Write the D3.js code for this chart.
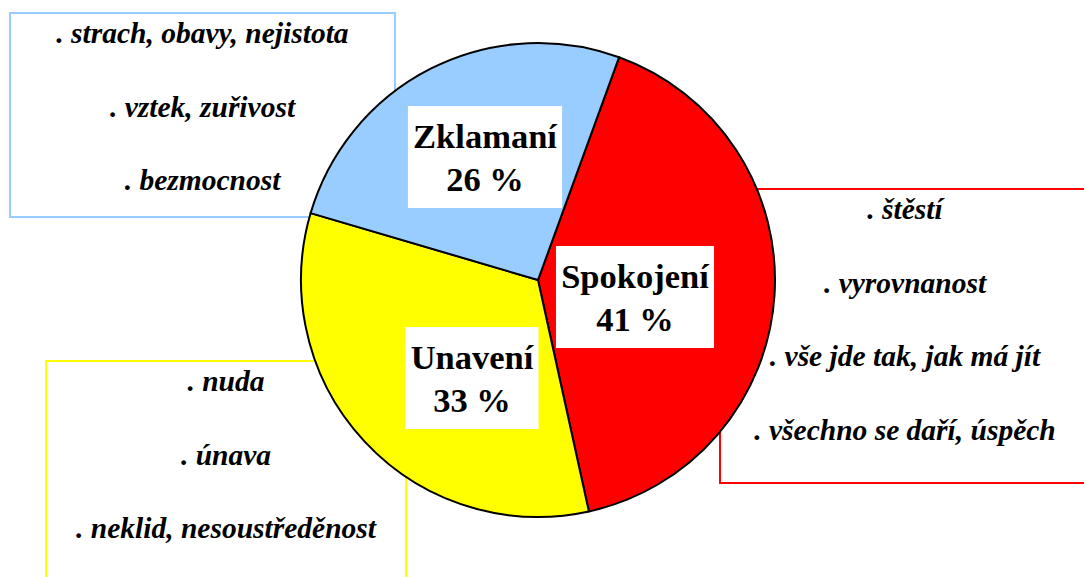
<!DOCTYPE html>
<html>
<head>
<meta charset="utf-8">
<script src="https://cdn.jsdelivr.net/npm/d3@7"></script>
<style>
  body { margin: 0; background: #fff; }
  svg { display: block; }
</style>
</head>
<body>
<script>
// data
const categories = ['Spokojení', 'Unavení', 'Zklamaní'];
const percents = [41, 33, 26];
const colors = ['#ff0000', '#ffff00', '#99ccff'];
const notesSpokojeni = ['. štěstí', '. vyrovnanost', '. vše jde tak, jak má jít', '. všechno se daří, úspěch'];
const notesUnaveni = ['. nuda', '. únava', '. neklid, nesoustředěnost'];
const notesZklamani = ['. strach, obavy, nejistota', '. vztek, zuřivost', '. bezmocnost'];
const notes = [notesSpokojeni, notesUnaveni, notesZklamani];

const width = 1084;
const height = 577;
const cx = 538, cy = 280, radius = 237;
const serif = '"Liberation Serif", "Times New Roman", serif';

// layout of the side boxes (behind the pie) and the label boxes
const noteBoxes = [
  { x: 720, y: 189, w: 370, h: 294 },
  { x: 46, y: 361, w: 360, h: 260 },
  { x: 10, y: 13, w: 385, h: 204 }
];
const labelOffsets = [[97, 8], [-66, 89], [-53, -132]];

const svg = d3.select('body').append('svg')
  .attr('width', width)
  .attr('height', height);

// note boxes
const notesG = svg.append('g');
noteBoxes.forEach((b, i) => {
  notesG.append('rect')
    .attr('x', b.x)
    .attr('y', b.y)
    .attr('width', b.w)
    .attr('height', b.h)
    .attr('fill', 'none')
    .attr('stroke', colors[i])
    .attr('stroke-width', 2);

  notesG.selectAll(null)
    .data(notes[i])
    .enter()
    .append('text')
    .attr('x', b.x + b.w / 2)
    .attr('y', (d, j) => b.y + 30 + j * 73.5)
    .attr('text-anchor', 'middle')
    .style('font-family', serif)
    .style('font-weight', 'bold')
    .style('font-style', 'italic')
    .style('font-size', '29.5px')
    .text(d => d);
});

// pie
const startAngle = 20 * Math.PI / 180;
const pie = d3.pie()
  .sort(null)
  .startAngle(startAngle)
  .endAngle(startAngle + 2 * Math.PI);

const arc = d3.arc()
  .innerRadius(0)
  .outerRadius(radius);

const g = svg.append('g')
  .attr('transform', `translate(${cx}, ${cy})`);

const arcs = pie(percents);

g.selectAll('path')
  .data(arcs)
  .enter()
  .append('path')
  .attr('d', arc)
  .attr('fill', (d, i) => colors[i])
  .attr('stroke', '#000')
  .attr('stroke-width', 2)
  .attr('stroke-linejoin', 'round');

// labels
const labels = g.selectAll('.label')
  .data(arcs)
  .enter()
  .append('g')
  .attr('class', 'label')
  .attr('transform', (d, i) => `translate(${labelOffsets[i][0]}, ${labelOffsets[i][1]})`);

labels.each(function(d, i) {
  const lg = d3.select(this);
  const rect = lg.append('rect').attr('fill', '#fff');
  const t = lg.append('text')
    .attr('text-anchor', 'middle')
    .style('font-family', serif)
    .style('font-weight', 'bold')
    .style('font-size', '34.5px');
  t.append('tspan').attr('x', 0).attr('y', 0).text(categories[i]);
  t.append('tspan').attr('x', 0).attr('y', 43).text(percents[i] + ' %');
  const w = t.node().getBBox().width + 10;
  rect.attr('x', -w / 2)
    .attr('y', -42)
    .attr('width', w)
    .attr('height', 102);
});
</script>
</body>
</html>
